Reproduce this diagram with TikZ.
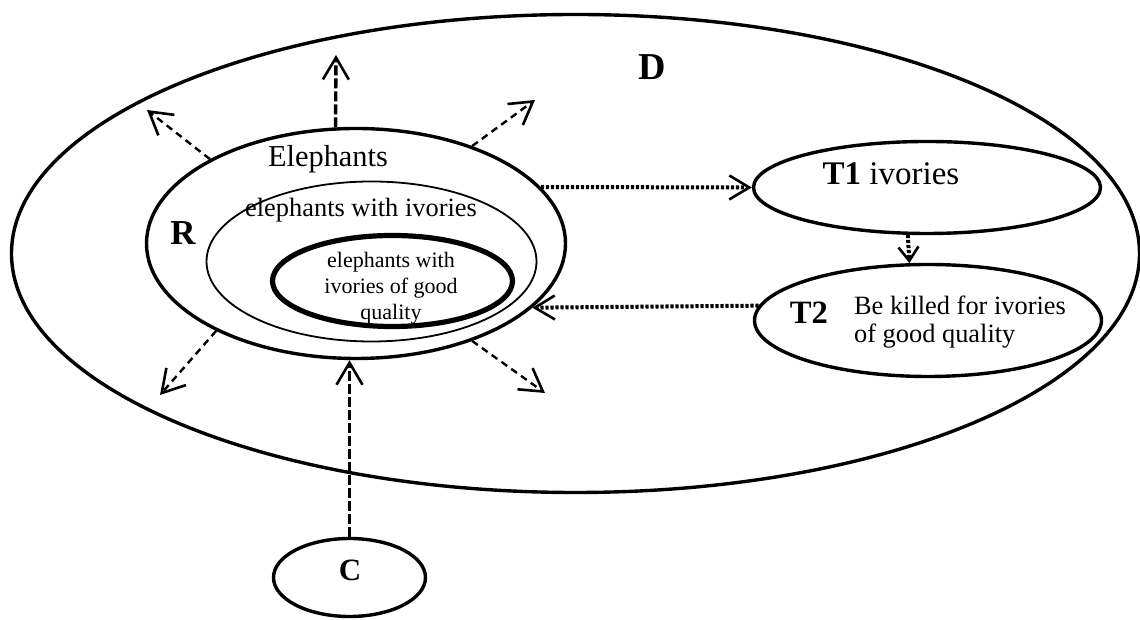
\documentclass[tikz,border=0pt]{standalone}
\usepackage{fontspec}
\setmainfont{Liberation Serif}
\usetikzlibrary{positioning,arrows.meta,shapes.geometric}

\begin{document}
\begin{tikzpicture}[x=0.5pt, y=0.5pt,
    region/.style={draw, ellipse, inner sep=0pt, line width=1.7pt},
    spread/.style={line width=1.2pt, dash pattern=on 3.5pt off 2.5pt,
      -{Straight Barb[length=11pt, width=13pt, line width=1.3pt]}},
    push/.style={line width=1.7pt, dash pattern=on 5pt off 1.5pt,
      -{Straight Barb[length=11pt, width=13pt, line width=1.3pt]}},
    flow/.style={line width=2pt, dash pattern=on 1.6pt off 0.9pt,
      -{Straight Barb[length=10pt, width=12pt, line width=1.3pt]}}]
  \useasboundingbox (0,0) rectangle (1140,620);

  % Domain D
  \node[region, minimum width=564pt, minimum height=239pt] (D) at (575.5,366.5) {};
  \node[font=\bfseries\fontsize{19}{22}\selectfont] (Dlbl) at (652,553) {D};

  % R and its nested sets
  \node[region, minimum width=209.5pt, minimum height=115pt] (R) at (356,376.5) {};
  \node[region, line width=0.9pt, minimum width=165pt, minimum height=80pt] (Iv) at (371.5,358.5) {};
  \node[region, line width=2.6pt, minimum width=120pt, minimum height=45.5pt] (Good) at (392.5,339) {};
  \node[font=\bfseries\fontsize{17.5}{20}\selectfont] (Rlbl) at (183,386.5) {R};
  \node[font=\fontsize{15.2}{18}\selectfont] (Ele) at (328,461) {Elephants};
  \node[font=\fontsize{13.2}{16}\selectfont] (EleIv) at (361,409.5) {elephants with ivories};
  \node[align=center, font=\fontsize{11}{13}\selectfont] (EleGood) at (391,332) {elephants with\\ivories of good\\quality};

  % T1 and T2
  \node[region, minimum width=173.5pt, minimum height=46pt] (T1) at (927,432.5) {};
  \node[font=\fontsize{16.5}{19}\selectfont] (T1lbl) at (891,446) {\textbf{T1} ivories};
  \node[region, minimum width=173.5pt, minimum height=56pt] (T2) at (928,299.5) {};
  \node[font=\bfseries\fontsize{16.3}{19}\selectfont] (T2lbl) at (809,307) {T2};
  \node[anchor=west, align=left, font=\fontsize{13.2}{14}\selectfont] (T2txt) at (847,298) {Be killed for ivories\\of good quality};

  % C
  \node[region, minimum width=76pt, minimum height=39pt] (C) at (349.5,42.5) {};
  \node[font=\bfseries\fontsize{15.5}{18}\selectfont] (Clbl) at (350,49.5) {C};

  % arrows out of R
  \coordinate (upEnd) at (336,565);
  \coordinate (ulEnd) at (147,510);
  \coordinate (urEnd) at (535,520);
  \coordinate (llEnd) at (160,225);
  \coordinate (lrEnd) at (545,227);
  \draw[push] (R.100) -- (upEnd);
  \draw[spread] (R.150) -- (ulEnd);
  \draw[spread] (R.40) -- (urEnd);
  \draw[spread] (R.212) -- (llEnd);
  \draw[spread] (R.320) -- (lrEnd);

  % C into R
  \draw[push] (C.north) -- (C.north |- R.south);

  % R, T1, T2 loop
  \draw[flow] (R.17) -- (T1.west);
  \draw[flow, -{Straight Barb[length=7pt, width=10pt, line width=1.3pt]}] (T1.248) -- (T2.108);
  \draw[flow] (T2.175) -- (R.340);
\end{tikzpicture}
\end{document}
